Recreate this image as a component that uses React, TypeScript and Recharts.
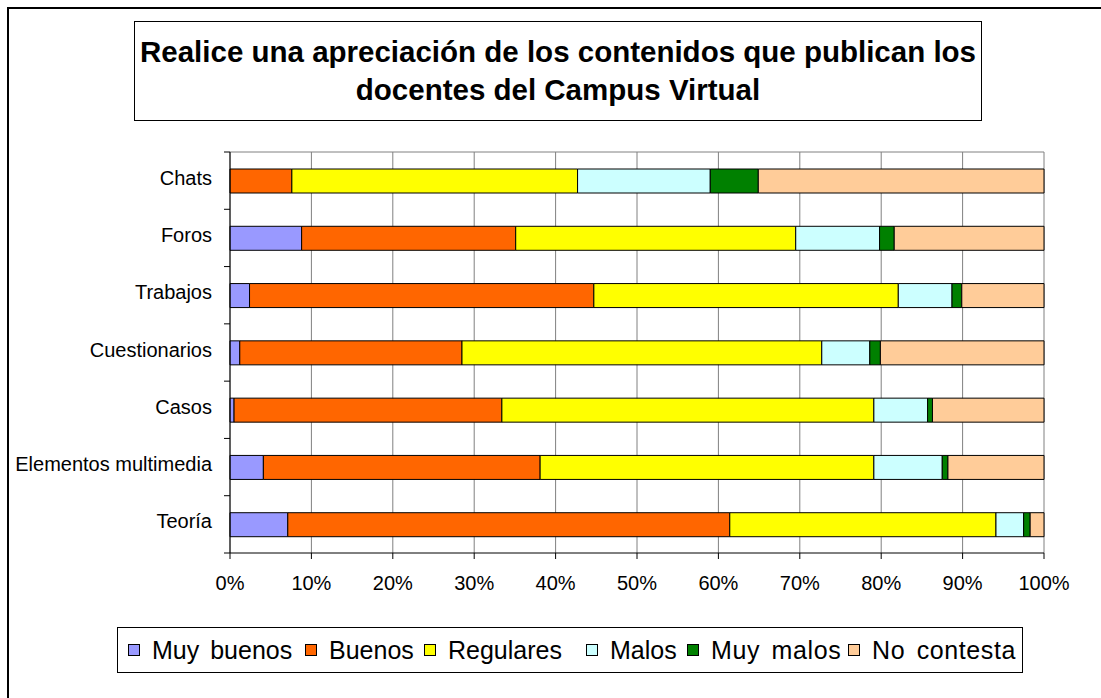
import React from 'react';
import { BarChart, Bar, XAxis, YAxis, CartesianGrid } from 'recharts';

const categories = ['Chats', 'Foros', 'Trabajos', 'Cuestionarios', 'Casos', 'Elementos multimedia', 'Teoría'];
const muyBuenos = [0, 8.8, 2.4, 1.2, 0.5, 4.1, 7.1];
const buenos = [7.6, 26.3, 42.3, 27.3, 32.9, 34.0, 54.3];
const regulares = [35.1, 34.4, 37.4, 44.2, 45.7, 41.0, 32.7];
const malos = [16.3, 10.3, 6.6, 5.9, 6.6, 8.4, 3.4];
const muyMalos = [5.9, 1.8, 1.2, 1.3, 0.6, 0.7, 0.8];
const noContesta = [35.1, 18.4, 10.1, 20.1, 13.7, 11.8, 1.7];
const xTicks = [0, 0.1, 0.2, 0.3, 0.4, 0.5, 0.6, 0.7, 0.8, 0.9, 1];

const series = [
    { key: 'muyBuenos', name: 'Muy buenos', color: '#9999FF' },
    { key: 'buenos', name: 'Buenos', color: '#FF6600' },
    { key: 'regulares', name: 'Regulares', color: '#FFFF00' },
    { key: 'malos', name: 'Malos', color: '#CCFFFF' },
    { key: 'muyMalos', name: 'Muy malos', color: '#008000' },
    { key: 'noContesta', name: 'No contesta', color: '#FFCC99' },
];

// legend slot widths (Excel spaces the entries unevenly)
const legendSlots = [177, 119, 162, 101, 161, 170];

const data = categories.map((name, i) => ({
    name,
    muyBuenos: muyBuenos[i],
    buenos: buenos[i],
    regulares: regulares[i],
    malos: malos[i],
    muyMalos: muyMalos[i],
    noContesta: noContesta[i],
}));

const FONT = '"Liberation Sans", Arial, sans-serif';
const W = 1101;
const H = 698;
const PLOT_TOP = 152;
const PLOT_BOTTOM = 553;
const PLOT_LEFT = 230;
const PLOT_RIGHT = 1044;
const X_AXIS_H = 40;
const BAND = (PLOT_BOTTOM - PLOT_TOP) / categories.length;

const CategoryTick = (props: any) => {
    const { y, payload, index } = props;
    const top = y - BAND / 2;
    return (
        <g>
            <line x1={PLOT_LEFT - 6} x2={PLOT_LEFT} y1={top} y2={top} stroke="#000" />
            {index === categories.length - 1 && (
                <line x1={PLOT_LEFT - 6} x2={PLOT_LEFT} y1={top + BAND} y2={top + BAND} stroke="#000" />
            )}
            <text x={212} y={y + 4} textAnchor="end" fontSize={20} fontFamily={FONT} fill="#000">
                {payload.value}
            </text>
        </g>
    );
};

const App: React.FC = () => {
    return (
        <div style={{ position: 'absolute', left: 0, top: 0, width: W, height: H, background: '#fff', overflow: 'hidden' }}>
            {/* partial outer frame */}
            <div
                style={{
                    position: 'absolute',
                    left: 7,
                    top: 7,
                    width: W,
                    height: H,
                    borderLeft: '2px solid #000',
                    borderTop: '2px solid #000',
                }}
            />
            <div
                style={{
                    position: 'absolute',
                    left: 134,
                    top: 21,
                    width: 846,
                    height: 98,
                    border: '1px solid #000',
                    display: 'flex',
                    alignItems: 'center',
                    justifyContent: 'center',
                    textAlign: 'center',
                    fontFamily: FONT,
                    fontWeight: 'bold',
                    fontSize: 29.5,
                    lineHeight: '38px',
                    color: '#000',
                    whiteSpace: 'nowrap',
                }}
            >
                Realice una apreciación de los contenidos que publican los
                <br />
                docentes del Campus Virtual
            </div>
            <div style={{ position: 'absolute', left: 0, top: 0 }}>
                <BarChart
                    width={W}
                    height={H}
                    data={data}
                    layout="vertical"
                    stackOffset="expand"
                    margin={{ top: PLOT_TOP, right: W - PLOT_RIGHT, bottom: H - PLOT_BOTTOM - X_AXIS_H, left: 0 }}
                >
                    <CartesianGrid
                        stroke="#808080"
                        strokeWidth={1}
                        horizontalCoordinatesGenerator={({ offset }: any) => [offset.top]}
                    />
                    <XAxis
                        type="number"
                        domain={[0, 1]}
                        ticks={xTicks}
                        height={X_AXIS_H}
                        tickFormatter={(v: number) => `${Math.round(v * 100)}%`}
                        axisLine={{ stroke: '#000' }}
                        tickLine={{ stroke: '#000' }}
                        tickSize={6}
                        tickMargin={17}
                        tick={{ fill: '#000', fontSize: 20, fontFamily: FONT }}
                        interval={0}
                    />
                    <YAxis
                        type="category"
                        dataKey="name"
                        width={PLOT_LEFT}
                        axisLine={{ stroke: '#000' }}
                        tickLine={false}
                        tick={<CategoryTick />}
                        interval={0}
                    />
                    {series.map((s) => (
                        <Bar
                            key={s.key}
                            dataKey={s.key}
                            name={s.name}
                            stackId="a"
                            fill={s.color}
                            stroke="#000"
                            strokeWidth={1}
                            barSize={24}
                            isAnimationActive={false}
                        />
                    ))}
                </BarChart>
            </div>
            {/* legend */}
            <div
                style={{
                    position: 'absolute',
                    left: 117,
                    top: 627,
                    width: 894,
                    height: 44,
                    border: '1px solid #000',
                    display: 'flex',
                    alignItems: 'center',
                    paddingLeft: 10,
                    fontFamily: FONT,
                    fontSize: 25,
                    wordSpacing: 4,
                    color: '#000',
                    whiteSpace: 'nowrap',
                }}
            >
                {series.map((s, i) => (
                    <div key={s.key} style={{ display: 'flex', alignItems: 'center', width: legendSlots[i], flex: 'none' }}>
                        <span
                            style={{
                                width: 10,
                                height: 10,
                                background: s.color,
                                border: '1px solid #000',
                                marginRight: 12,
                                display: 'inline-block',
                                flex: 'none',
                            }}
                        />
                        <span style={{ letterSpacing: i >= 4 ? 0.6 : 0 }}>{s.name}</span>
                    </div>
                ))}
            </div>
        </div>
    );
};

export default App;
